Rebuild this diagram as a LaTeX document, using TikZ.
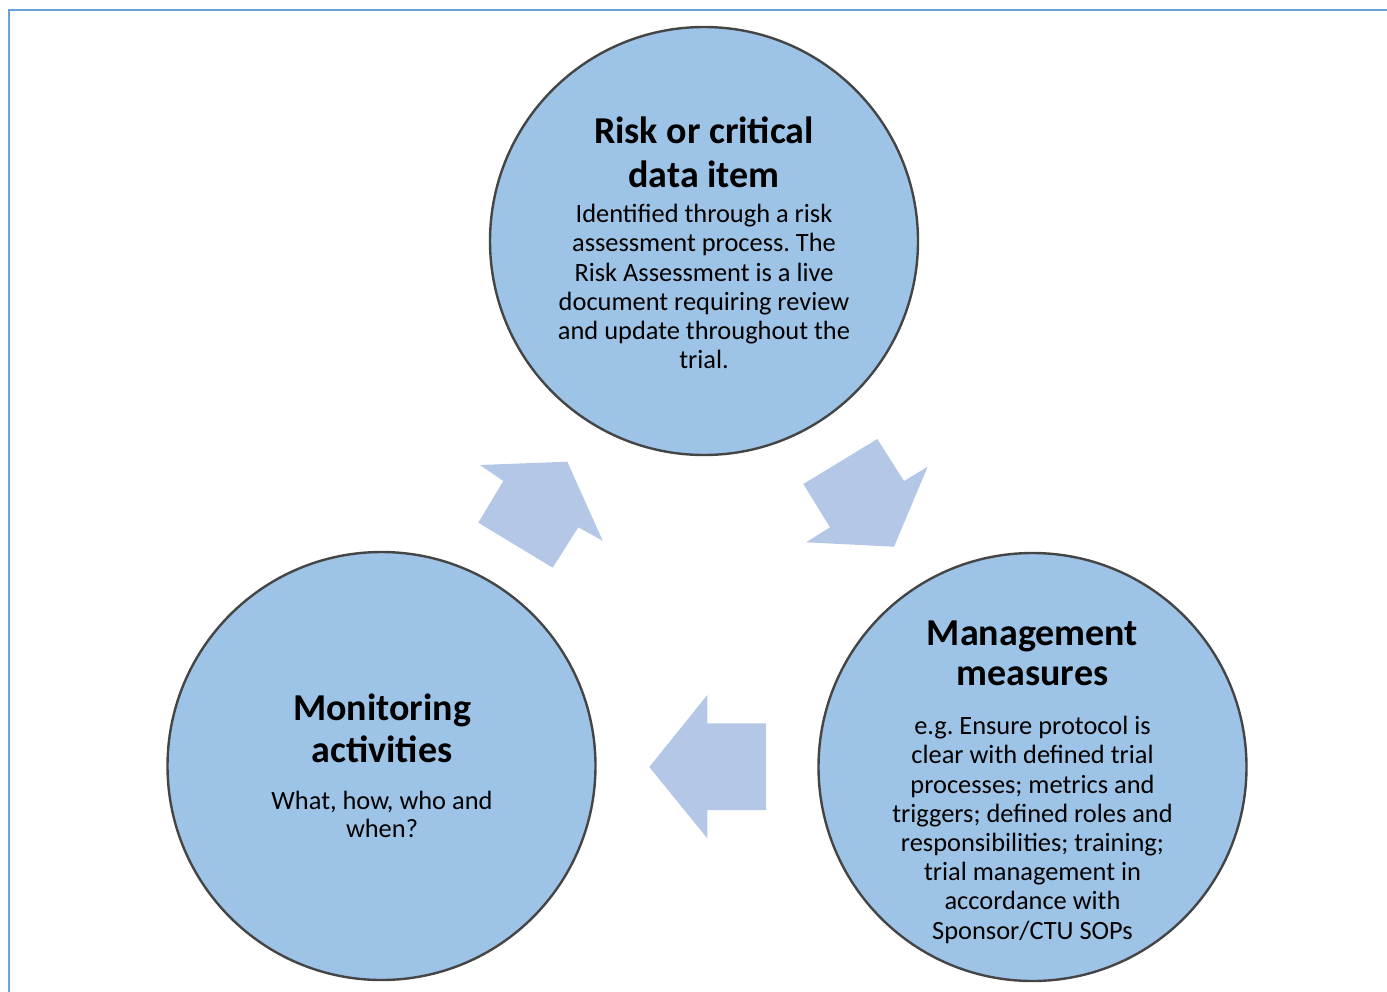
\documentclass[tikz,border=0pt]{standalone}
\usepackage{fontspec}
\setmainfont{Carlito}
\frenchspacing
\definecolor{framecol}{HTML}{6A9FDB}
\definecolor{circfill}{HTML}{9DC3E6}
\definecolor{circline}{HTML}{454545}
\definecolor{arrowfill}{HTML}{B4C7E7}
\tikzset{
  stage/.style={circle, draw=circline, line width=2.4pt, fill=circfill,
    minimum size=428pt, inner sep=0pt},
  % multi-line texts are placed by the baseline of their last line
  headtext/.style={align=center, anchor=base, inner sep=0pt,
    font=\bfseries\fontsize{38}{42}\selectfont},
  bodytext/.style={align=center, anchor=base, inner sep=0pt,
    font=\fontsize{26.4}{29.2}\selectfont},
  blockarrow/.style={fill=arrowfill, draw=none}
}
\begin{document}
\begin{tikzpicture}[x=1pt,y=-1pt]
  \useasboundingbox (0,0) rectangle (1387,991);
  \clip (0,0) rectangle (1387,991);
  % outer frame (only top and left edges fall inside the page)
  \draw[framecol, line width=2pt] (8.5,9.8) rectangle (1420,1020);

  % the three stages of the cycle
  \node[stage] (risk) at (704,241) {};
  \node[stage] (mgmt) at (1032.5,767) {};
  \node[stage] (mon)  at (381.5,766) {};

  % block arrows between the stages
  \fill[blockarrow] (803.3,484) -- (877.3,439) -- (904,481) -- (927.7,466.7)
    -- (894,546.7) -- (806,542.3) -- (830,527.3) -- cycle;
  \fill[blockarrow] (766,723.3) -- (707.3,723.3) -- (707.3,695) -- (649.3,767)
    -- (707.3,838.3) -- (707.3,810) -- (766,810) -- cycle;
  \fill[blockarrow] (478.3,522.7) -- (503.3,481) -- (480,465) -- (567.3,461.7)
    -- (602.7,540.7) -- (578.3,527.3) -- (552.7,567.7) -- cycle;

  % texts
  \node[headtext, font=\bfseries\fontsize{38}{44}\selectfont] (risktitle) at (704,187)
    {Risk or critical\\data item};
  \node[bodytext] (riskbody) at (704,368.7)
    {Identified through a risk\\assessment process. The\\Risk Assessment is a live\\document requiring review\\and update throughout the\\trial.};

  \node[headtext, font=\bfseries\fontsize{38}{40.3}\selectfont] (mgmttitle) at (1032.5,685.3)
    {Management\\measures};
  \node[bodytext] (mgmtbody) at (1032.5,939)
    {e.g. Ensure protocol is\\clear with defined trial\\processes; metrics and\\triggers; defined roles and\\responsibilities; training;\\trial management in\\accordance with\\Sponsor/CTU SOPs};

  \node[headtext, font=\bfseries\fontsize{38}{41.6}\selectfont] (montitle) at (382,762)
    {Monitoring\\activities};
  \node[bodytext, font=\fontsize{26.4}{28}\selectfont] (monbody) at (382,837.5)
    {What, how, who and\\when?};
\end{tikzpicture}
\end{document}
